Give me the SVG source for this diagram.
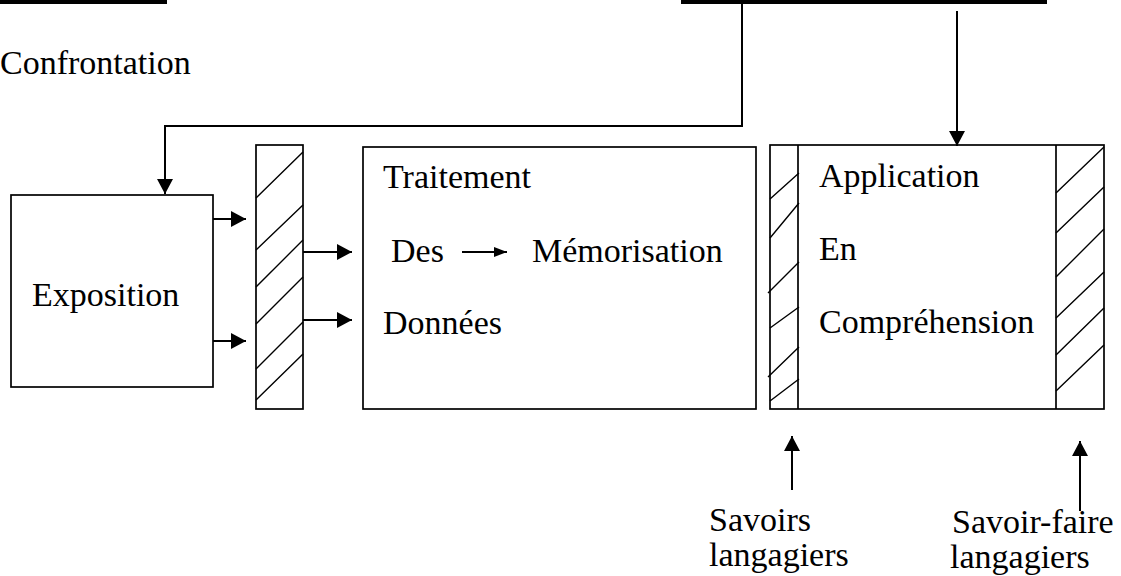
<svg xmlns="http://www.w3.org/2000/svg" width="1121" height="576" viewBox="0 0 1121 576">
  <style>
    .box { fill: #fff; stroke: #000; stroke-width: 1.7; }
    .hatch { fill: none; stroke: #000; stroke-width: 1.4; }
    .wire { fill: none; stroke: #000; stroke-width: 2; }
    .bar { fill: #000; }
    text { font-family: "Liberation Serif", "Times New Roman", serif; font-size: 34px; fill: #000; }
  </style>
  <defs>
    <marker id="head" viewBox="0 0 15 16" refX="15" refY="8" markerWidth="15" markerHeight="16" markerUnits="userSpaceOnUse" orient="auto">
      <path d="M0,0 L15,8 L0,16 Z" fill="#000"/>
    </marker>
    <marker id="headSmall" viewBox="0 0 13 10" refX="13" refY="5" markerWidth="13" markerHeight="10" markerUnits="userSpaceOnUse" orient="auto">
      <path d="M0,0 L13,5 L0,10 Z" fill="#000"/>
    </marker>
  </defs>

  <rect width="1121" height="576" fill="#fff"/>

  <!-- top bars (edges of upper stages) -->
  <g id="bar-left"><rect class="bar" x="0" y="0" width="167" height="4"/></g>
  <g id="bar-right"><rect class="bar" x="681" y="0" width="366" height="4"/></g>

  <g id="label-confrontation"><text x="0" y="74">Confrontation</text></g>

  <!-- Exposition -->
  <g id="exposition">
    <rect class="box" x="11" y="195" width="202" height="192"/>
    <text x="32" y="306">Exposition</text>
  </g>

  <!-- first filter -->
  <g id="filter-1">
    <rect class="box" x="256" y="145" width="47" height="264"/>
    <path class="hatch" d="M256,198 L303,152 M256,250 L303,205 M256,287 L303,240 M256,324 L303,277 M256,369 L303,322 M256,400 L303,354"/>
  </g>

  <!-- Traitement des données -->
  <g id="traitement">
    <rect class="box" x="363" y="147" width="393" height="262"/>
    <text x="383" y="188">Traitement</text>
    <text x="391" y="262">Des</text>
    <line class="wire" x1="462" y1="252" x2="507" y2="252" marker-end="url(#headSmall)"/>
    <text x="532" y="262">Mémorisation</text>
    <text x="383" y="334">Données</text>
  </g>

  <!-- Application en compréhension with its two filters -->
  <g id="application">
    <rect class="box" x="770" y="145" width="334" height="264"/>
    <line class="box" x1="798" y1="145" x2="798" y2="409"/>
    <line class="box" x1="1056" y1="145" x2="1056" y2="409"/>
    <path class="hatch" d="M770,199 L799,173 M770,238 L799,203 M768,293 L799,262 M770,328 L799,307 M768,377 L799,347 M770,401 L799,379"/>
    <path class="hatch" d="M1056,193 L1104,147 M1056,233 L1104,187 M1056,277 L1104,229 M1056,318 L1104,272 M1056,355 L1104,308 M1056,391 L1104,345"/>
    <text x="819" y="187">Application</text>
    <text x="819" y="260">En</text>
    <text x="819" y="333">Compréhension</text>
  </g>

  <g id="label-savoirs">
    <text x="709" y="531">Savoirs</text>
    <text x="709" y="566">langagiers</text>
  </g>
  <g id="label-savoir-faire">
    <text x="952" y="533">Savoir-faire</text>
    <text x="950" y="568">langagiers</text>
  </g>

  <!-- connectors -->
  <g id="connectors">
    <path class="wire" d="M742,4 L742,126 L165,126 L165,194" marker-end="url(#head)"/>
    <line class="wire" x1="957" y1="11" x2="957" y2="146" marker-end="url(#head)"/>
    <line class="wire" x1="213" y1="219" x2="246" y2="219" marker-end="url(#head)"/>
    <line class="wire" x1="213" y1="341" x2="246" y2="341" marker-end="url(#head)"/>
    <line class="wire" x1="303" y1="252" x2="352" y2="252" marker-end="url(#head)"/>
    <line class="wire" x1="303" y1="320" x2="352" y2="320" marker-end="url(#head)"/>
    <line class="wire" x1="792" y1="490" x2="792" y2="436" marker-end="url(#head)"/>
    <line class="wire" x1="1080" y1="511" x2="1080" y2="441" marker-end="url(#head)"/>
  </g>
</svg>
